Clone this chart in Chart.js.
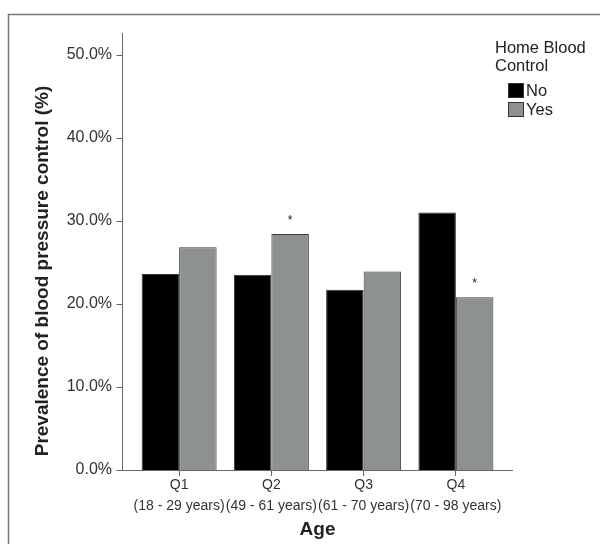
<!DOCTYPE html>
<html>
<head>
<meta charset="utf-8">
<script src="https://cdn.jsdelivr.net/npm/chart.js@4"></script>
<style>
  body { margin: 0; background: #fff; }
  #wrap { width: 600px; height: 544px; }
</style>
</head>
<body>
<div id="wrap"><canvas id="myChart" width="600" height="544"></canvas></div>
<script>
const categories = ['Q1', 'Q2', 'Q3', 'Q4'];
const ageRanges = ['(18 - 29 years)', '(49 - 61 years)', '(61 - 70 years)', '(70 - 98 years)'];
const noValues = [23.6, 23.5, 21.7, 31.0];
const yesValues = [26.8, 28.4, 23.9, 20.8];
const yesSignificant = [false, true, false, true];
const yTicks = [0, 10, 20, 30, 40, 50];

const FONT = '"Liberation Sans", Arial, sans-serif';
const TEXT = '#333';
const AXIS = '#666';

// axis lines sit a bit outside the plot area, like the original figure
const AXIS_GAP = 11;

const framePlugin = {
    id: 'frame',
    afterDraw(chart) {
        const c = chart.ctx;
        const area = chart.chartArea;
        const y = chart.scales.y;
        const axX = area.left - AXIS_GAP + 0.5;

        c.save();
        // outer box
        c.strokeStyle = '#777';
        c.lineWidth = 1.5;
        c.strokeRect(8.5, 14.5, 620, 560);

        // axis lines
        c.strokeStyle = AXIS;
        c.lineWidth = 1;
        c.beginPath();
        c.moveTo(axX, area.top);
        c.lineTo(axX, area.bottom + 0.5);
        c.lineTo(area.right + AXIS_GAP, area.bottom + 0.5);
        c.stroke();

        // y tick marks
        c.beginPath();
        yTicks.forEach(v => {
            const py = Math.round(y.getPixelForValue(v)) + 0.5;
            c.moveTo(axX - 6, py);
            c.lineTo(axX, py);
        });
        c.stroke();

        // y title
        c.fillStyle = '#222';
        c.font = 'bold 19px ' + FONT;
        c.textAlign = 'center';
        c.textBaseline = 'middle';
        c.translate(43, 271);
        c.rotate(-Math.PI / 2);
        c.fillText('Prevalence of blood pressure control (%)', 0, 0);
        c.restore();

        // x title
        c.save();
        c.fillStyle = '#222';
        c.font = 'bold 19px ' + FONT;
        c.textAlign = 'center';
        c.textBaseline = 'middle';
        c.fillText('Age', (area.left + area.right) / 2, 530);
        c.restore();

        // significance stars above the "Yes" bars
        const meta = chart.getDatasetMeta(1);
        c.save();
        c.fillStyle = '#222';
        c.font = '12px ' + FONT;
        c.textAlign = 'center';
        c.textBaseline = 'alphabetic';
        meta.data.forEach((bar, i) => {
            if (yesSignificant[i]) c.fillText('*', bar.x, bar.y - 10);
        });
        c.restore();

        // legend
        c.save();
        c.fillStyle = '#222';
        c.font = '16.5px ' + FONT;
        c.textAlign = 'left';
        c.textBaseline = 'middle';
        c.fillText('Home Blood', 495, 48);
        c.fillText('Control', 495, 66);
        chart.data.datasets.forEach((ds, i) => {
            const top = 83 + i * 19;
            c.fillStyle = ds.backgroundColor;
            c.fillRect(508, top, 16, 15);
            c.strokeStyle = '#333';
            c.lineWidth = 1;
            c.strokeRect(508.5, top + 0.5, 15, 14);
            c.fillStyle = '#222';
            c.fillText(ds.label, 526, top + 8);
        });
        c.restore();
    }
};

new Chart(document.getElementById('myChart'), {
    type: 'bar',
    data: {
        labels: categories.map((q, i) => [q, ageRanges[i]]),
        datasets: [
            {
                label: 'No',
                data: noValues,
                backgroundColor: '#000000',
                borderColor: '#333333',
                borderWidth: 1,
                barPercentage: 1.0,
                categoryPercentage: 0.813
            },
            {
                label: 'Yes',
                data: yesValues,
                backgroundColor: '#8e9191',
                borderColor: '#3a3a3a',
                borderWidth: 1,
                barPercentage: 1.0,
                categoryPercentage: 0.813
            }
        ]
    },
    options: {
        responsive: false,
        animation: false,
        layout: { padding: { left: 0, right: 98, top: 33, bottom: 0 } },
        plugins: {
            legend: { display: false },
            tooltip: { enabled: false }
        },
        scales: {
            x: {
                grid: {
                    display: true,
                    drawOnChartArea: false,
                    offset: false,
                    tickLength: 6,
                    color: AXIS
                },
                border: { display: false },
                ticks: {
                    color: TEXT,
                    padding: -1,
                    autoSkip: false,
                    maxRotation: 0,
                    font: { family: FONT, size: 14, lineHeight: 1.5 }
                },
                afterFit(scale) { scale.height = 544 - 470; }
            },
            y: {
                min: 0,
                max: 52.6,
                grid: { display: false, tickLength: 8 },
                border: { display: false },
                ticks: {
                    stepSize: 10,
                    includeBounds: false,
                    color: TEXT,
                    padding: 13,
                    font: { family: FONT, size: 16 },
                    callback: v => v.toFixed(1) + '%'
                },
                afterFit(scale) { scale.width = 133; }
            }
        }
    },
    plugins: [framePlugin]
});
</script>
</body>
</html>
